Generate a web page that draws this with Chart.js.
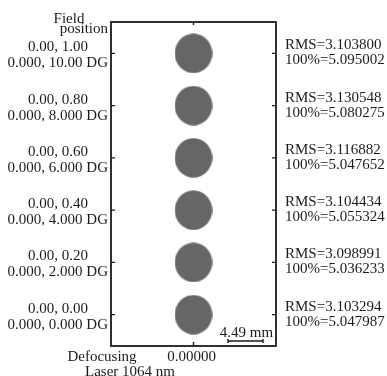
<!DOCTYPE html>
<html><head><meta charset="utf-8">
<script src="https://cdn.jsdelivr.net/npm/chart.js@4/dist/chart.umd.min.js"></script>
<style>html,body{margin:0;padding:0;background:#fff;}#wrap{width:387px;height:376px;}</style>
</head><body><div id="wrap"><canvas id="c" width="387" height="376"></canvas></div>
<script>
const fieldPositions = ["0.00, 1.00", "0.00, 0.80", "0.00, 0.60", "0.00, 0.40", "0.00, 0.20", "0.00, 0.00"];
const fieldAngles = ["0.000, 10.00 DG", "0.000, 8.000 DG", "0.000, 6.000 DG", "0.000, 4.000 DG", "0.000, 2.000 DG", "0.000, 0.000 DG"];
const rmsRadius = ["3.103800", "3.130548", "3.116882", "3.104434", "3.098991", "3.103294"];
const geoRadius = ["5.095002", "5.080275", "5.047652", "5.055324", "5.036233", "5.047987"];
const rowPosition = [5, 4, 3, 2, 1, 0];
const defocusValues = [0, 0, 0, 0, 0, 0];
const defocusLabel = "0.00000";
const scaleBarValue = 4.49;
const scaleBarLabel = "4.49 mm";

const FONT = '15px "Liberation Serif", "Times New Roman", serif';
const TXT = '#1c1c1c';

// elliptical spot glyph
const spot = document.createElement('canvas');
spot.width = 38; spot.height = 40;
(function(){const g=spot.getContext('2d');g.fillStyle='#666666';g.beginPath();g.ellipse(19,20,18.8,19.8,0,0,Math.PI*2);g.fill();})();

const deco = {
  id: 'deco',
  afterDraw(chart) {
    const {ctx, chartArea: a, scales: {x, y}} = chart;
    ctx.save();
    ctx.strokeStyle = '#1a1a1a';
    ctx.lineWidth = 1.8;
    ctx.strokeRect(a.left, a.top, a.right - a.left, a.bottom - a.top);
    ctx.lineWidth = 1.4;
    const cx = x.getPixelForValue(0);
    ctx.beginPath();
    ctx.moveTo(cx, a.top); ctx.lineTo(cx, a.top + 3);
    ctx.moveTo(cx, a.bottom); ctx.lineTo(cx, a.bottom - 4);
    rowPosition.forEach(r => {
      const py = y.getPixelForValue(r);
      ctx.moveTo(a.left, py); ctx.lineTo(a.left + 4, py);
      ctx.moveTo(a.right, py); ctx.lineTo(a.right - 4, py);
    });
    ctx.stroke();

    ctx.fillStyle = TXT;
    ctx.font = FONT;
    ctx.textBaseline = 'alphabetic';
    rowPosition.forEach((r, i) => {
      const py = y.getPixelForValue(r);
      ctx.textAlign = 'center';
      ctx.fillText(fieldPositions[i], a.left - 53, py - 2);
      ctx.textAlign = 'right';
      ctx.fillText(fieldAngles[i], a.left - 3, py + 14);
      ctx.textAlign = 'left';
      ctx.fillText('RMS=' + rmsRadius[i], a.right + 9, py - 4);
      ctx.fillText('100%=' + geoRadius[i], a.right + 9, py + 11);
    });
    // header
    ctx.textAlign = 'center';
    ctx.fillText('Field', a.left - 42, a.top + 1);
    ctx.textAlign = 'right';
    ctx.fillText('position', a.left - 3, a.top + 11);
    // bottom
    ctx.textAlign = 'center';
    ctx.fillText(defocusLabel, cx - 2, a.bottom + 15);
    ctx.fillText('Defocusing', a.left - 9, a.bottom + 15);
    ctx.fillText('Laser 1064 nm', a.left + 19, a.bottom + 30);
    // scale bar
    const bx1 = a.right - 13;
    const bx0 = bx1 - (x.getPixelForValue(scaleBarValue) - x.getPixelForValue(0));
    const by = a.bottom - 5;
    ctx.beginPath();
    ctx.moveTo(bx0, by); ctx.lineTo(bx1, by);
    ctx.moveTo(bx0, by - 2); ctx.lineTo(bx0, by + 2);
    ctx.moveTo(bx1, by - 2); ctx.lineTo(bx1, by + 2);
    ctx.stroke();
    ctx.fillText(scaleBarLabel, (bx0 + bx1) / 2 + 1, a.bottom - 9);
    ctx.restore();
  }
};

new Chart(document.getElementById('c'), {
  type: 'scatter',
  data: {
    datasets: [{
      data: rowPosition.map((r, i) => ({x: defocusValues[i], y: r})),
      pointStyle: spot,
      pointRadius: 20,
      pointHoverRadius: 20
    }]
  },
  options: {
    responsive: false,
    animation: false,
    events: [],
    layout: {padding: {left: 111, right: 111, top: 22, bottom: 30}},
    plugins: {legend: {display: false}, tooltip: {enabled: false}},
    scales: {
      x: {type: 'linear', min: -10.58, max: 10.58, display: false},
      y: {type: 'linear', min: -0.6, max: 5.6, display: false}
    }
  },
  plugins: [deco]
});
</script></body></html>
